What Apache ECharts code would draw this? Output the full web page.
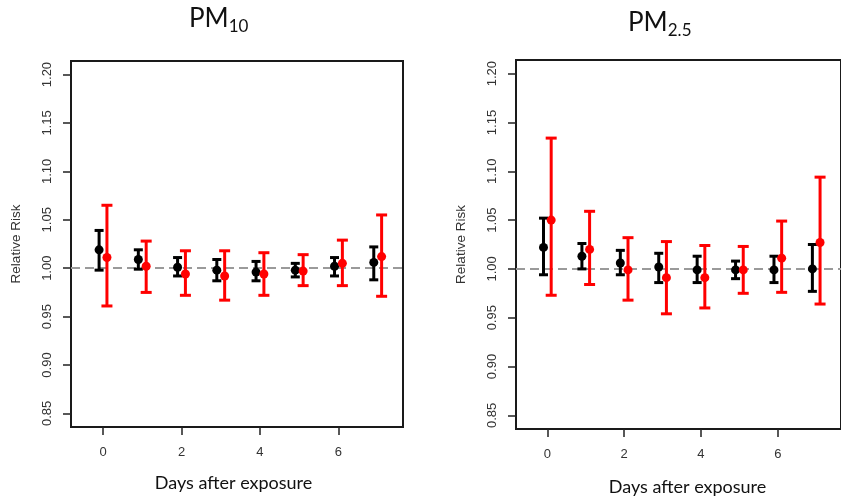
<!DOCTYPE html>
<html><head><meta charset="utf-8">
<script src="https://cdn.jsdelivr.net/npm/echarts@6/dist/echarts.min.js"></script>
<style>html,body{margin:0;padding:0;background:#fff}#c{width:841px;height:500px}</style>
</head><body><div id="c"></div>
<script>
const days = [0, 1, 2, 3, 4, 5, 6, 7];
const yTicks = [0.85, 0.90, 0.95, 1.00, 1.05, 1.10, 1.15, 1.20];
const xTicks = [0, 2, 4, 6];
const refValue = 1.0;
// PM10 panel
const pm10BlackEst  = [1.019, 1.009, 1.001, 0.998, 0.996, 0.998, 1.002, 1.006];
const pm10BlackLow  = [0.998, 0.999, 0.992, 0.987, 0.987, 0.991, 0.992, 0.988];
const pm10BlackHigh = [1.039, 1.019, 1.011, 1.009, 1.007, 1.005, 1.011, 1.022];
const pm10RedEst    = [1.011, 1.002, 0.994, 0.992, 0.994, 0.997, 1.005, 1.012];
const pm10RedLow    = [0.961, 0.975, 0.972, 0.967, 0.972, 0.982, 0.982, 0.971];
const pm10RedHigh   = [1.065, 1.028, 1.018, 1.018, 1.016, 1.014, 1.029, 1.055];
// PM2.5 panel
const pm25BlackEst  = [1.022, 1.013, 1.006, 1.002, 0.999, 0.999, 0.999, 1.000];
const pm25BlackLow  = [0.994, 1.000, 0.994, 0.986, 0.986, 0.990, 0.986, 0.977];
const pm25BlackHigh = [1.052, 1.026, 1.019, 1.016, 1.013, 1.008, 1.013, 1.025];
const pm25RedEst    = [1.050, 1.020, 0.999, 0.991, 0.991, 0.999, 1.011, 1.027];
const pm25RedLow    = [0.973, 0.984, 0.968, 0.954, 0.960, 0.975, 0.976, 0.964];
const pm25RedHigh   = [1.134, 1.059, 1.032, 1.028, 1.024, 1.023, 1.049, 1.094];

const chart = echarts.init(document.getElementById('c'), null, {renderer: 'canvas'});

function errSeries(idx, est, low, high, color, off, capHalf) {
  return {
    type: 'custom', xAxisIndex: idx, yAxisIndex: idx, z: 5,
    data: days.map((d, i) => [d, est[i], low[i], high[i]]),
    encode: {x: 0, y: [1, 2, 3]},
    renderItem: function (params, api) {
      const x = api.value(0) + off;
      const pE = api.coord([x, api.value(1)]);
      const pL = api.coord([x, api.value(2)]);
      const pH = api.coord([x, api.value(3)]);
      const st = {stroke: color, lineWidth: 3, lineCap: 'butt'};
      return {type: 'group', children: [
        {type: 'line', shape: {x1: pL[0], y1: pL[1], x2: pH[0], y2: pH[1]}, style: st},
        {type: 'line', shape: {x1: pL[0] - capHalf, y1: pL[1], x2: pL[0] + capHalf, y2: pL[1]}, style: st},
        {type: 'line', shape: {x1: pH[0] - capHalf, y1: pH[1], x2: pH[0] + capHalf, y2: pH[1]}, style: st},
        {type: 'circle', shape: {cx: pE[0], cy: pE[1], r: 4.5}, style: {fill: color}}
      ]};
    }
  };
}

function refSeries(idx) {
  return {
    type: 'line', xAxisIndex: idx, yAxisIndex: idx, data: [], z: 2,
    markLine: {
      silent: true, symbol: ['none', 'none'], label: {show: false},
      lineStyle: {color: '#9a9a9a', type: [9, 5], width: 2},
      data: [{yAxis: refValue}]
    }
  };
}

function xAx(idx) {
  return {
    type: 'value', gridIndex: idx, min: -0.816, max: 7.645,
    splitLine: {show: false}, axisLine: {show: false, onZero: false},
    axisTick: {show: true, length: 8, lineStyle: {color: '#222', width: 1.5}, customValues: xTicks},
    axisLabel: {customValues: xTicks, margin: 19, color: '#333', fontSize: 13, fontFamily: 'Liberation Sans'}
  };
}
function yAx(idx) {
  return {
    type: 'value', gridIndex: idx, min: 0.836, max: 1.214,
    name: 'Relative Risk', nameLocation: 'middle', nameGap: 48,
    nameTextStyle: {color: '#333', fontSize: 13.5, fontFamily: 'Liberation Sans'},
    splitLine: {show: false}, axisLine: {show: false, onZero: false},
    axisTick: {show: true, length: 8, lineStyle: {color: '#222', width: 1.5}, customValues: yTicks},
    axisLabel: {customValues: yTicks, rotate: 90, margin: 17, color: '#333', fontSize: 13,
      fontFamily: 'Liberation Sans', formatter: v => v.toFixed(2)}
  };
}

const gridStyle = {show: true, borderColor: '#1a1a1a', borderWidth: 2, backgroundColor: 'transparent'};

chart.setOption({
  animation: false,
  backgroundColor: '#ffffff',
  grid: [
    Object.assign({left: 71, top: 61, width: 332, height: 366}, gridStyle),
    Object.assign({left: 516, top: 60, width: 334, height: 369}, gridStyle)
  ],
  xAxis: [xAx(0), xAx(1)],
  yAxis: [yAx(0), yAx(1)],
  graphic: [
    {type: 'text', left: 189, top: 6, style: {text: '{m|PM}{s|10}', rich: {
      m: {fontSize: 26, fontFamily: 'Lato', fill: '#111', verticalAlign: 'bottom'},
      s: {fontSize: 17, fontFamily: 'Lato', fill: '#111', verticalAlign: 'bottom', padding: [0, 0, -3, 0]}}}},
    {type: 'text', left: 628, top: 10, style: {text: '{m|PM}{s|2.5}', rich: {
      m: {fontSize: 26, fontFamily: 'Lato', fill: '#111', verticalAlign: 'bottom'},
      s: {fontSize: 17, fontFamily: 'Lato', fill: '#111', verticalAlign: 'bottom', padding: [0, 0, -3, 0]}}}},
    {type: 'text', x: 233.5, y: 483, style: {text: 'Days after exposure', fontSize: 18, fontFamily: 'Lato',
      fill: '#111', align: 'center', verticalAlign: 'middle'}},
    {type: 'text', x: 687.5, y: 487, style: {text: 'Days after exposure', fontSize: 18, fontFamily: 'Lato',
      fill: '#111', align: 'center', verticalAlign: 'middle'}}
  ],
  series: [
    refSeries(0), refSeries(1),
    errSeries(0, pm10BlackEst, pm10BlackLow, pm10BlackHigh, '#000000', -0.1, 4.5),
    errSeries(0, pm10RedEst, pm10RedLow, pm10RedHigh, '#ff0000', 0.1, 5.5),
    errSeries(1, pm25BlackEst, pm25BlackLow, pm25BlackHigh, '#000000', -0.1, 4.5),
    errSeries(1, pm25RedEst, pm25RedLow, pm25RedHigh, '#ff0000', 0.1, 5.5)
  ]
});
</script></body></html>
